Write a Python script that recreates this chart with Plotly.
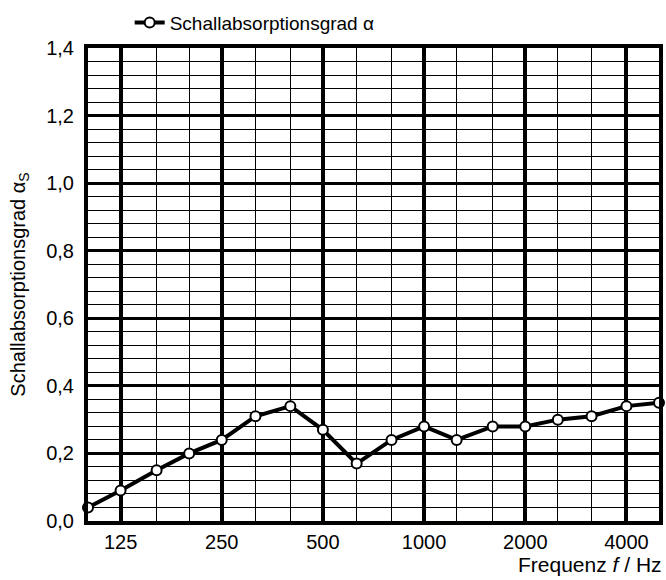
import math
import plotly.graph_objects as go

# Data (third-octave band centre frequencies and absorption coefficients)
freqs = [100, 125, 160, 200, 250, 315, 400, 500, 630, 800, 1000, 1250, 1600, 2000, 2500, 3150, 4000, 5000]
alpha = [0.04, 0.09, 0.15, 0.20, 0.24, 0.31, 0.34, 0.27, 0.17, 0.24, 0.28, 0.24, 0.28, 0.28, 0.30, 0.31, 0.34, 0.35]
octave_ticks = [125, 250, 500, 1000, 2000, 4000]
octave_labels = ["125", "250", "500", "1000", "2000", "4000"]
series_name = "Schallabsorptionsgrad α"

FONT = "Liberation Sans, Arial, sans-serif"

fig = go.Figure()
fig.add_trace(go.Scatter(
    x=freqs, y=alpha, name=series_name, mode="lines+markers",
    line=dict(color="black", width=4),
    marker=dict(symbol="circle", size=10, color="white", line=dict(color="black", width=2)),
    cliponaxis=False,
))

fig.update_layout(
    width=666, height=580,
    margin=dict(l=88, r=3, t=46, b=59),
    paper_bgcolor="white", plot_bgcolor="white",
    separators=",.",
    font=dict(family=FONT, color="black", size=20),
    showlegend=True,
    legend=dict(x=0.073, y=1.094, xanchor="left", yanchor="top", orientation="h",
                font=dict(size=19, family=FONT), bgcolor="rgba(0,0,0,0)",
                borderwidth=0),
    xaxis=dict(
        type="log",
        range=[math.log10(100), math.log10(5000)],
        tickmode="array", tickvals=octave_ticks, ticktext=octave_labels,
        showgrid=True, gridcolor="black", gridwidth=3.5,
        minor=dict(tickmode="array", tickvals=freqs, showgrid=True,
                   gridcolor="black", gridwidth=1.2, ticks=""),
        showline=True, linecolor="black", linewidth=4, mirror=True,
        ticks="", zeroline=False,
        tickfont=dict(size=20),
    ),
    yaxis=dict(
        range=[0, 1.4], tick0=0, dtick=0.2, tickformat=".1f",
        showgrid=True, gridcolor="black", gridwidth=3,
        minor=dict(dtick=0.04, tick0=0, showgrid=True, gridcolor="black", gridwidth=1.2, ticks=""),
        showline=True, linecolor="black", linewidth=4, mirror=True,
        ticks="", zeroline=False, ticklabelstandoff=6,
        tickfont=dict(size=20),
        title=dict(text="Schallabsorptionsgrad α<sub>S</sub>", font=dict(size=20), standoff=16),
    ),
)

fig.add_annotation(
    text="Frequenz <i>f</i> / Hz", xref="paper", yref="paper",
    x=1.0, y=-0.093, xanchor="right", yanchor="middle", xshift=5,
    showarrow=False, font=dict(size=21, family=FONT),
)

fig.write_html(
    "out.html",
    config={"displayModeBar": False},
    post_script="document.body.style.margin='0';document.body.style.padding='0';document.body.style.overflow='hidden';",
)
